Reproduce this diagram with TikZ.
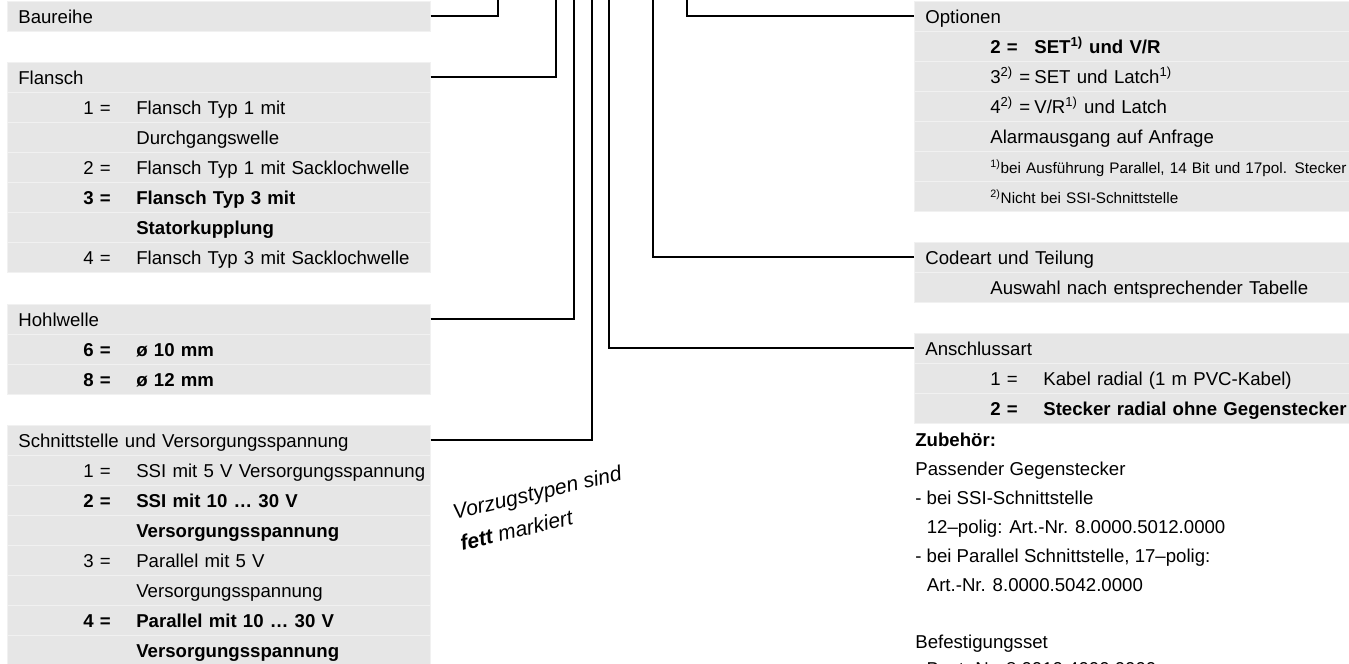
\documentclass[tikz,border=0pt]{standalone}
\usepackage{fontspec}
\setmainfont{Liberation Sans}
\usetikzlibrary{positioning}

\definecolor{kastengrau}{RGB}{230,230,230}
\definecolor{trenngrau}{RGB}{241,241,241}
\newcommand{\nr}[1]{\hspace{1.3cm}\makebox[1.06cm][l]{#1}}
\newcommand{\onr}[1]{\hspace{1.3cm}\makebox[0.88cm][l]{#1}}
\newcommand{\fn}[1]{\textsuperscript{#1}}

\begin{document}
\begin{tikzpicture}[x=0.02cm, y=-0.02cm,
	zeile/.style={rectangle, anchor=north west, fill=kastengrau, draw=trenngrau, line width=0.4pt,
		inner xsep=0.22cm, inner ysep=0pt, text width=8.02cm, text height=0.45cm, text depth=0.15cm,
		align=left, execute at begin node=\hbox\bgroup, execute at end node=\egroup,
		font=\fontsize{10.6}{12}\selectfont},
	rzeile/.style={zeile, text width=8.26cm},
	fett/.style={font=\fontsize{10.6}{12}\selectfont\bfseries},
	klein/.style={font=\fontsize{8.7}{10}\selectfont},
	notiz/.style={anchor=base west, inner sep=0pt, font=\fontsize{10.6}{12}\selectfont},
	linie/.style={line width=1.1pt}]
	\useasboundingbox (0,0) rectangle (1349,663);

	% linke Seite
	\draw
	(7,1) node [zeile] (baureihe) {Baureihe};

	\draw
	(7,62) node [zeile] (flansch) {Flansch}
	(7,92) node [zeile] (flansch1) {\nr{1 =}Flansch Typ 1 mit}
	(7,122) node [zeile] (flansch1b) {\nr{}Durchgangswelle}
	(7,152) node [zeile] (flansch2) {\nr{2 =}Flansch Typ 1 mit Sacklochwelle}
	(7,182) node [zeile, fett] (flansch3) {\nr{3 =}Flansch Typ 3 mit}
	(7,212) node [zeile, fett] (flansch3b) {\nr{}Statorkupplung}
	(7,242) node [zeile] (flansch4) {\nr{4 =}Flansch Typ 3 mit Sacklochwelle};

	\draw
	(7,304) node [zeile] (hohlwelle) {Hohlwelle}
	(7,334) node [zeile, fett] (hohlwelle6) {\nr{6 =}ø 10 mm}
	(7,364) node [zeile, fett] (hohlwelle8) {\nr{8 =}ø 12 mm};

	\draw
	(7,425) node [zeile] (schnitt) {Schnittstelle und Versorgungsspannung}
	(7,455) node [zeile] (schnitt1) {\nr{1 =}SSI mit 5 V Versorgungsspannung}
	(7,485) node [zeile, fett] (schnitt2) {\nr{2 =}SSI mit 10 \dots\ 30 V}
	(7,515) node [zeile, fett] (schnitt2b) {\nr{}Versorgungsspannung}
	(7,545) node [zeile] (schnitt3) {\nr{3 =}Parallel mit 5 V}
	(7,575) node [zeile] (schnitt3b) {\nr{}Versorgungsspannung}
	(7,605) node [zeile, fett] (schnitt4) {\nr{4 =}Parallel mit 10 \dots\ 30 V}
	(7,635) node [zeile, fett] (schnitt4b) {\nr{}Versorgungsspannung};

	% rechte Seite
	\draw
	(914,1) node [rzeile] (optionen) {Optionen}
	(914,31) node [rzeile, fett] (optionen2) {\onr{2 =}SET\fn{1)} und V/R}
	(914,61) node [rzeile] (optionen3) {\onr{3\fn{2)} =}SET und Latch\fn{1)}}
	(914,91) node [rzeile] (optionen4) {\onr{4\fn{2)} =}V/R\fn{1)} und Latch}
	(914,121) node [rzeile] (alarm) {\hspace{1.3cm}Alarmausgang auf Anfrage}
	(914,151) node [rzeile, klein] (fussnote1) {\hspace{1.3cm}\fn{1)}bei Ausführung Parallel, 14 Bit und 17pol. Stecker}
	(914,181) node [rzeile, klein] (fussnote2) {\hspace{1.3cm}\fn{2)}Nicht bei SSI-Schnittstelle};

	\draw
	(914,242) node [rzeile] (codeart) {Codeart und Teilung}
	(914,272) node [rzeile] (auswahl) {\hspace{1.3cm}Auswahl nach entsprechender Tabelle};

	\draw
	(914,333) node [rzeile] (anschluss) {Anschlussart}
	(914,363) node [rzeile] (anschluss1) {\nr{1 =}Kabel radial (1 m PVC-Kabel)}
	(914,393) node [rzeile, fett] (anschluss2) {\nr{2 =}Stecker radial ohne Gegenstecker};

	\node [notiz, fett] (zubehoer) at (915,446) {Zubehör:};
	\node [notiz] (zub1) at (915,475) {Passender Gegenstecker};
	\node [notiz] (zub2) at (915,504) {- bei SSI-Schnittstelle};
	\node [notiz] (zub3) at (915,533) {\hspace{0.23cm}12–polig: Art.-Nr. 8.0000.5012.0000};
	\node [notiz] (zub4) at (915,562) {- bei Parallel Schnittstelle, 17–polig:};
	\node [notiz] (zub5) at (915,591) {\hspace{0.23cm}Art.-Nr. 8.0000.5042.0000};
	\node [notiz] (zub6) at (915,648) {Befestigungsset};
	\node [notiz] (zub7) at (915,675) {- Best.-Nr. 8.0010.4000.0000};

	\node [notiz, font=\fontsize{12}{18.2}\selectfont\itshape, rotate=13.5, align=left] (vorzug) at (462,551)
		{Vorzugstypen sind\\\textbf{fett} markiert};

	% Verbindungen
	\coordinate (oben1) at (498,-3);
	\coordinate (oben2) at (556,-3);
	\coordinate (oben3) at (574,-3);
	\coordinate (oben4) at (592,-3);
	\coordinate (oben5) at (609,-3);
	\coordinate (oben6) at (653,-3);
	\coordinate (oben7) at (687,-3);
	\draw[linie] (baureihe.east) -| (oben1);
	\draw[linie] (flansch.east) -| (oben2);
	\draw[linie] (hohlwelle.east) -| (oben3);
	\draw[linie] (schnitt.east) -| (oben4);
	\draw[linie] (anschluss.west) -| (oben5);
	\draw[linie] (codeart.west) -| (oben6);
	\draw[linie] (optionen.west) -| (oben7);
\end{tikzpicture}
\end{document}
